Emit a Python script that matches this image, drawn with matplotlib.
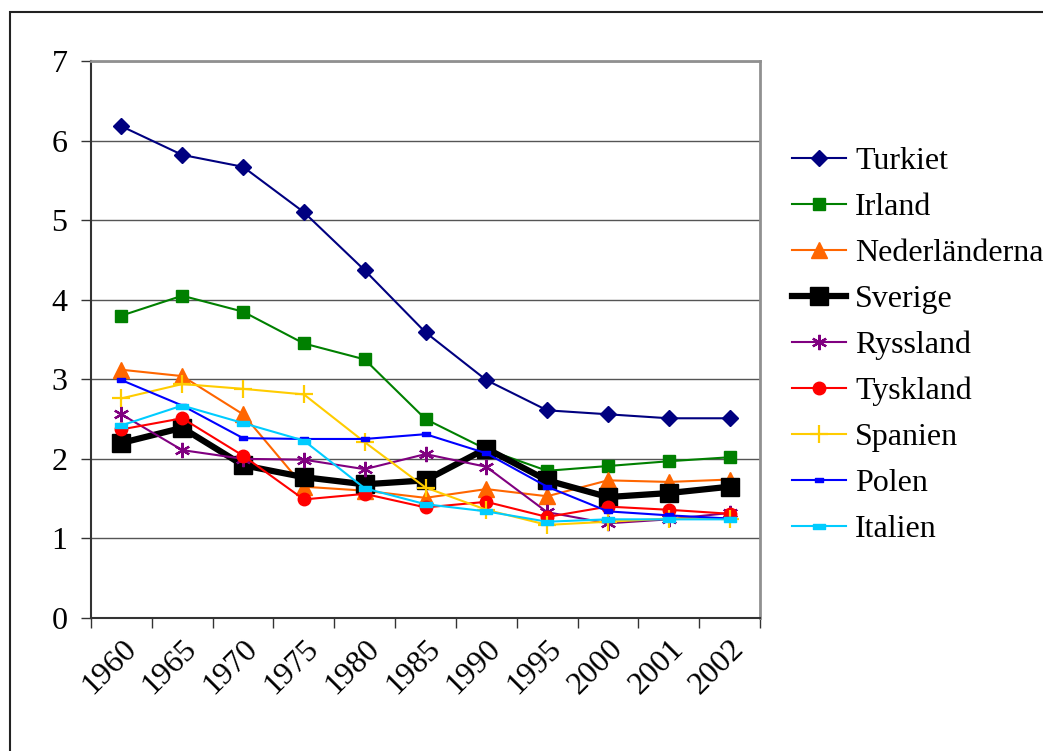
import matplotlib
matplotlib.use("Agg")
import matplotlib.pyplot as plt
from matplotlib.path import Path
from matplotlib.patches import Rectangle

years = ["1960", "1965", "1970", "1975", "1980", "1985", "1990", "1995", "2000", "2001", "2002"]

turkiet = [6.18, 5.82, 5.67, 5.10, 4.37, 3.59, 2.99, 2.61, 2.56, 2.51, 2.51]
irland = [3.80, 4.05, 3.85, 3.45, 3.25, 2.50, 2.12, 1.85, 1.91, 1.97, 2.02]
nederlanderna = [3.12, 3.04, 2.56, 1.65, 1.60, 1.51, 1.62, 1.53, 1.73, 1.71, 1.74]
sverige = [2.20, 2.39, 1.92, 1.77, 1.68, 1.73, 2.13, 1.73, 1.52, 1.57, 1.65]
ryssland = [2.56, 2.11, 2.00, 1.99, 1.87, 2.06, 1.90, 1.33, 1.19, 1.24, 1.32]
tyskland = [2.37, 2.51, 2.04, 1.49, 1.56, 1.39, 1.46, 1.27, 1.40, 1.36, 1.31]
spanien = [2.76, 2.94, 2.88, 2.81, 2.21, 1.64, 1.36, 1.17, 1.21, 1.25, 1.25]
polen = [2.99, 2.67, 2.26, 2.25, 2.25, 2.31, 2.07, 1.65, 1.34, 1.29, 1.25]
italien = [2.42, 2.67, 2.45, 2.23, 1.63, 1.43, 1.34, 1.21, 1.24, 1.24, 1.24]

names = ["Turkiet", "Irland", "Nederländerna", "Sverige", "Ryssland",
         "Tyskland", "Spanien", "Polen", "Italien"]
series = [turkiet, irland, nederlanderna, sverige, ryssland,
          tyskland, spanien, polen, italien]

plt.rcParams['font.family'] = ['Liberation Serif', 'DejaVu Serif']

dash = Path([(-1, -0.45), (1, -0.45), (1, 0.45), (-1, 0.45), (-1, -0.45)],
            [Path.MOVETO, Path.LINETO, Path.LINETO, Path.LINETO, Path.CLOSEPOLY])

styles = [
    dict(color="#000080", marker="D", ms=8, lw=1.5),
    dict(color="#008000", marker="s", ms=9, lw=1.5),
    dict(color="#FF6600", marker="^", ms=11, lw=1.5),
    dict(color="#000000", marker="s", ms=13.5, lw=4.5),
    dict(color="#800080", marker=(6, 2, 0), ms=11, lw=1.5, mew=1.6),
    dict(color="#FF0000", marker="o", ms=9, lw=1.5),
    dict(color="#FFCC00", marker="+", ms=13, lw=1.5, mew=1.6),
    dict(color="#0000FF", marker=dash, ms=6, lw=1.5),
    dict(color="#00CCFF", marker=dash, ms=8, lw=1.5),
]

fig = plt.figure(figsize=(10.43, 7.51), dpi=100)
ax = fig.add_axes([91/1043, 1-618/751, (760-91)/1043, (618-61)/751])

x = list(range(len(years)))
for name, vals, st in zip(names, series, styles):
    st = dict(st)
    mew = st.pop("mew", None)
    kw = dict(color=st["color"], marker=st["marker"], markersize=st["ms"],
              linewidth=st["lw"], label=name, markerfacecolor=st["color"],
              markeredgecolor=st["color"])
    if mew is not None:
        kw["markeredgewidth"] = mew
    ax.plot(x, vals, **kw)

ax.set_xlim(-0.5, len(years) - 0.5)
ax.set_ylim(0, 7)
ax.set_yticks(range(0, 8))
ax.set_yticklabels([str(i) for i in range(0, 8)], fontsize=23)
ax.yaxis.grid(True, color="#555555", linewidth=1.0)
ax.set_axisbelow(True)

ax.set_xticks([i - 0.5 for i in range(len(years) + 1)])
ax.set_xticklabels([])
ax.set_xticks(x, minor=True)
ax.set_xticklabels(years, minor=True, fontsize=23, rotation=45,
                   ha="right", va="top", rotation_mode="anchor")
ax.tick_params(axis="x", which="minor", length=0, pad=12)
ax.tick_params(axis="x", which="major", length=7, width=1.0, color="#333333")
ax.tick_params(axis="y", length=7, width=1.0, color="#333333", pad=10)

for s in ["left", "bottom"]:
    ax.spines[s].set_color("#333333")
    ax.spines[s].set_linewidth(1.5)
for s in ["top", "right"]:
    ax.spines[s].set_color("#909090")
    ax.spines[s].set_linewidth(2.0)

leg = fig.legend(loc="upper left", bbox_to_anchor=(792/1043, 1-147/751),
                 frameon=False, fontsize=23, handlelength=1.7,
                 handletextpad=0.28, labelspacing=0.52, borderpad=0,
                 borderaxespad=0)

fig.patches.append(Rectangle((10/1043, -0.1), 1.2, 1-12/751+0.1,
                             transform=fig.transFigure, fill=False,
                             edgecolor="#222222", linewidth=1.5,
                             clip_on=False, zorder=-1))

fig.savefig("out.png", dpi=100)
